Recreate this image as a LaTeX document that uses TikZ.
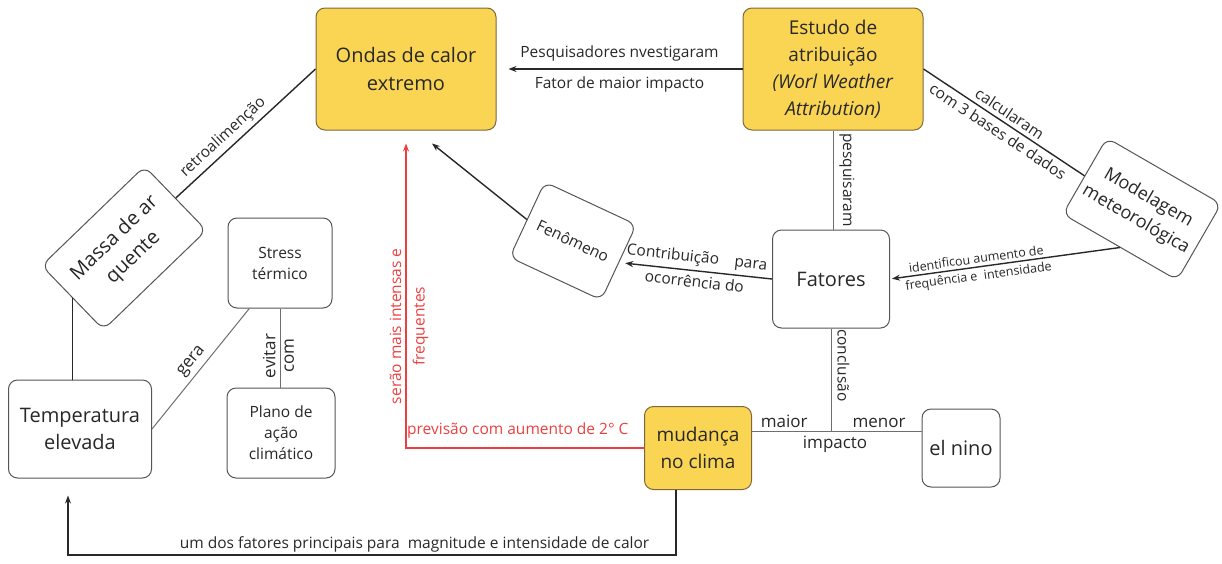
\documentclass[tikz,border=0pt]{standalone}
\usepackage{fontspec}
\setmainfont{Open Sans}
\usetikzlibrary{arrows.meta}

\definecolor{gold}{RGB}{250,213,84}
\definecolor{goldedge}{RGB}{125,105,60}
\definecolor{boxgray}{RGB}{85,85,85}
\definecolor{ink}{RGB}{40,40,40}
\definecolor{linegray}{RGB}{110,110,110}
\definecolor{hotred}{RGB}{236,64,64}

\begin{document}
\begin{tikzpicture}[x=1pt,y=-1pt,
  box/.style={draw=boxgray,line width=1pt,rounded corners=9pt,fill=white,align=center,text=ink,inner sep=1pt,font=\fontsize{20}{27}\selectfont},
  hot/.style={box,fill=gold,draw=goldedge,font=\fontsize{20}{28}\selectfont},
  smallbox/.style={box,font=\fontsize{15.5}{21}\selectfont},
  lbl/.style={text=ink,inner sep=4pt,font=\fontsize{15.5}{18}\selectfont},
  biglbl/.style={lbl,font=\fontsize{17}{20}\selectfont},
  tinylbl/.style={lbl,inner sep=3pt,font=\fontsize{12.5}{15}\selectfont},
  redlbl/.style={lbl,text=hotred},
  link/.style={draw=ink,line width=1.4pt},
  thinlink/.style={draw=linegray,line width=1pt},
  arr/.style={link,-{Stealth[length=8pt,width=6pt]}},
  redarr/.style={draw=hotred,line width=1.4pt,-{Stealth[length=8pt,width=6pt]}}]
\useasboundingbox (0,0) rectangle (1222,563);

\node[hot,minimum width=180,minimum height=122] (ondas) at (406,69) {Ondas de calor\\extremo};
\node[hot,minimum width=180,minimum height=122,font=\fontsize{19}{27}\selectfont] (estudo) at (833,69) {Estudo de\\atribuição\\\textit{(Worl Weather}\\\textit{Attribution)}};
\node[box,rotate=-30,minimum width=132,minimum height=88,font=\fontsize{18}{25}\selectfont] (model) at (1142,209) {Modelagem\\meteorológica};
\node[box,minimum width=117,minimum height=98] (fatores) at (831,279) {Fatores};
\node[smallbox,rotate=-25,minimum width=101,minimum height=83] (fen) at (573,241) {Fenômeno};
\node[box,rotate=44,minimum width=143,minimum height=89] (massa) at (124,248) {Massa de ar\\quente};
\node[smallbox,minimum width=104,minimum height=90] (stress) at (280,263) {Stress\\térmico};
\node[box,minimum width=143,minimum height=98] (temp) at (80,429) {Temperatura\\elevada};
\node[smallbox,minimum width=108,minimum height=90] (plano) at (281,433) {Plano de\\ação\\climático};
\node[hot,minimum width=107,minimum height=83,font=\fontsize{19}{27}\selectfont] (mud) at (698,448) {mudança\\no clima};
\node[box,minimum width=78,minimum height=78] (nino) at (961,448) {el nino};

\path ([yshift=17pt]mud.east) coordinate (mudr) ([yshift=17pt]nino.west) coordinate (ninol);
\coordinate (imp) at (mudr -| fatores.south);

\draw[arr,shorten >=12pt] (estudo) -- (ondas) node[lbl,midway,above=3pt]{Pesquisadores nvestigaram} node[lbl,midway,below=3pt]{Fator de maior impacto};
\draw[link] (massa.east) -- (ondas.west) node[lbl,pos=0.4,sloped,above]{retroalimenção};
\draw[link] (massa.west) -- (massa.west |- temp.north);
\draw[thinlink] (temp.east) -- (stress.236) node[biglbl,pos=0.5,sloped,above]{gera};
\draw[thinlink] (stress.south) -- (stress.south |- plano.north) node[biglbl,pos=0.6,rotate=90,anchor=south]{evitar} node[biglbl,pos=0.6,rotate=90,anchor=north]{com};
\draw[arr] (fen.west) -- ([xshift=26pt,yshift=-13pt]ondas.south);
\draw[arr,shorten >=6pt] (fatores.west) -- (fen.east) node[lbl,midway,sloped,above]{Contribuição\quad para} node[lbl,midway,sloped,below]{ocorrência do};
\draw[thinlink] (estudo.south) -- (estudo.south |- fatores.north) node[lbl,midway,rotate=-90,anchor=south,inner sep=6pt]{pesquisaram};
\draw[link] (estudo.east) -- (model.west) node[lbl,midway,sloped,above]{calcularam} node[lbl,midway,sloped,below]{com 3 bases de dados};
\draw[arr,shorten >=2pt] (model.south) -- (fatores.east) node[tinylbl,pos=0.62,sloped,above]{identificou aumento de} node[tinylbl,pos=0.62,sloped,below]{frequência e\ \ intensidade};
\draw[thinlink] (fatores.south) -- (imp) node[lbl,pos=0.36,rotate=-90,anchor=south,inner sep=6pt]{conclusão};
\draw[thinlink] (mudr) -- (ninol) node[biglbl,pos=0.19,above=-1pt]{maior} node[biglbl,pos=0.75,above=-1pt]{menor} node[biglbl,pos=0.49,below=1pt]{impacto};
\draw[redarr] (mud.west) -| ([yshift=-13pt]ondas.south) node[redlbl,pos=0.265,above=5pt]{previsão com aumento de 2° C} node[redlbl,pos=0.7,rotate=90,anchor=south]{serão mais intensas e} node[redlbl,pos=0.7,rotate=90,anchor=north,inner sep=6pt]{frequentes};
\draw[arr] ([xshift=-22pt]mud.south) -- ++(0,65) -| ([xshift=-12pt,yshift=-17pt]temp.south) node[lbl,pos=0.215,above=-2pt]{um dos fatores principais para\ \ magnitude e intensidade de calor};
\end{tikzpicture}
\end{document}
